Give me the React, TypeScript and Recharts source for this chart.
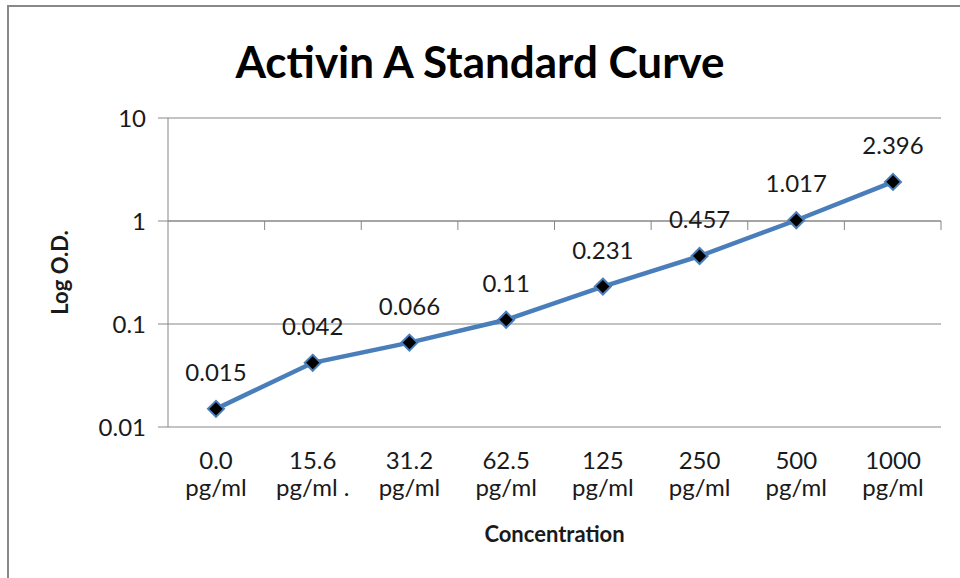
import { LineChart, Line, XAxis, YAxis, CartesianGrid, ReferenceLine, LabelList, Label } from 'recharts';

const concentrations = ['0.0', '15.6', '31.2', '62.5', '125', '250', '500', '1000'];
const units = ['pg/ml', 'pg/ml .', 'pg/ml', 'pg/ml', 'pg/ml', 'pg/ml', 'pg/ml', 'pg/ml'];
const odValues = [0.015, 0.042, 0.066, 0.11, 0.231, 0.457, 1.017, 2.396];
const yTicks = [0.01, 0.1, 1, 10];

const data = concentrations.map((c, i) => ({ conc: c, unit: units[i], od: odValues[i] }));

const FONT = 'Lato, "Open Sans", sans-serif';
const GRID = '#878787';
const TEXT = '#1a1a1a';
const BLUE = '#4a7ebb';

const ConcTick = (props: any) => {
    const { x, y, payload, index } = props;
    return (
        <g>
            <text x={x} y={y + 42} textAnchor="middle" fontSize={24} fontFamily={FONT} fill={TEXT}>
                {payload.value}
            </text>
            <text x={x} y={y + 69} textAnchor="middle" fontSize={24} fontFamily={FONT} fill={TEXT}>
                {units[index]}
            </text>
        </g>
    );
};

const Diamond = (props: any) => {
    const { cx, cy, index } = props;
    const r = 8;
    return (
        <path
            key={`d-${index}`}
            d={`M${cx},${cy - r}L${cx + r},${cy}L${cx},${cy + r}L${cx - r},${cy}Z`}
            fill="#000"
            stroke={BLUE}
            strokeWidth={2}
        />
    );
};

// Category axis crosses the log axis at 1, with tick marks between categories
const CrossingAxis = (props: any) => {
    const { x1, x2, y1 } = props;
    const step = (x2 - x1) / concentrations.length;
    return (
        <g>
            <line x1={x1} x2={x2} y1={y1} y2={y1} stroke={GRID} strokeWidth={1} />
            {concentrations.map((_, i) => (
                <line
                    key={i}
                    x1={x1 + step * (i + 1)}
                    x2={x1 + step * (i + 1)}
                    y1={y1}
                    y2={y1 + 9}
                    stroke={GRID}
                    strokeWidth={1}
                />
            ))}
        </g>
    );
};

const ValueLabel = (props: any) => {
    const { x, y, value } = props;
    return (
        <text x={x} y={y - 28} textAnchor="middle" fontSize={24} fontFamily={FONT} fill={TEXT}>
            {value}
        </text>
    );
};

export default function App() {
    return (
        <div style={{ position: 'absolute', top: 0, left: 0, width: 960, height: 578, overflow: 'hidden', background: '#fff' }}>
            <div
                style={{
                    position: 'absolute',
                    left: 7,
                    top: 5,
                    width: 1000,
                    height: 700,
                    border: '2px solid #888',
                }}
            />
            <div
                style={{
                    position: 'absolute',
                    left: 0,
                    top: 35,
                    width: 960,
                    textAlign: 'center',
                    fontFamily: FONT,
                    fontWeight: 700,
                    fontSize: 44,
                    color: '#000',
                    lineHeight: '52px',
                }}
            >
                Activin A Standard Curve
            </div>
            <LineChart
                width={960}
                height={578}
                data={data}
                margin={{ top: 118, right: 19, bottom: 0, left: 0 }}
                style={{ position: 'absolute', top: 0, left: 0 }}
            >
                <CartesianGrid vertical={false} stroke={GRID} strokeDasharray="" />
                <XAxis
                    dataKey="conc"
                    height={151}
                    axisLine={false}
                    tickLine={false}
                    tickSize={0}
                    tickMargin={0}
                    interval={0}
                    padding={{ left: 48, right: 48 }}
                    tick={<ConcTick />}
                >
                    <Label
                        content={(p: any) => (
                            <text
                                x={p.viewBox.x + p.viewBox.width / 2}
                                y={p.viewBox.y + 115}
                                textAnchor="middle"
                                fontSize={22}
                                fontWeight={700}
                                fontFamily={FONT}
                                fill={TEXT}
                            >
                                Concentration
                            </text>
                        )}
                    />
                </XAxis>
                <YAxis
                    scale="log"
                    domain={[0.01, 10]}
                    ticks={yTicks}
                    allowDataOverflow
                    width={168}
                    axisLine={{ stroke: GRID }}
                    tickLine={{ stroke: GRID }}
                    tickSize={10}
                    tickMargin={12}
                    tick={{ fontSize: 24, fontFamily: FONT, fill: TEXT }}
                >
                    <Label
                        content={(p: any) => {
                            const cy = p.viewBox.y + p.viewBox.height / 2;
                            return (
                                <text
                                    x={68}
                                    y={cy}
                                    transform={`rotate(-90, 68, ${cy})`}
                                    textAnchor="middle"
                                    fontSize={22}
                                    fontWeight={700}
                                    fontFamily={FONT}
                                    fill={TEXT}
                                >
                                    Log O.D.
                                </text>
                            );
                        }}
                    />
                </YAxis>
                <ReferenceLine y={1} shape={<CrossingAxis />} />
                <Line
                    type="linear"
                    dataKey="od"
                    stroke={BLUE}
                    strokeWidth={4.5}
                    dot={<Diamond />}
                    activeDot={false}
                    isAnimationActive={false}
                >
                    <LabelList dataKey="od" content={<ValueLabel />} />
                </Line>
            </LineChart>
        </div>
    );
}
